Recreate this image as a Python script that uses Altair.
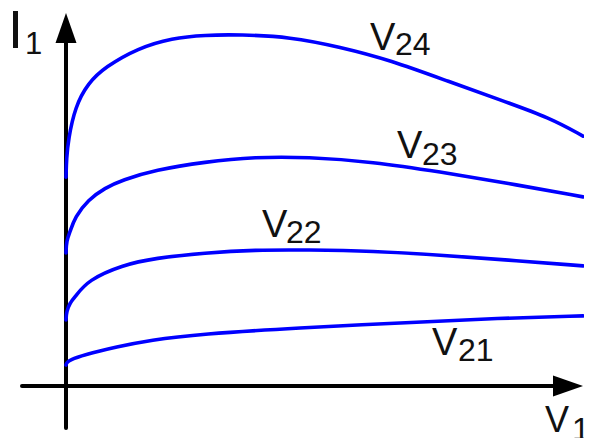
import altair as alt
import pandas as pd

# ---- curve data (V1 in 0..10, I1 in 0..10 arbitrary units) ----
v24_x = [0.0, 0.01, 0.044, 0.174, 0.426, 0.754, 1.393, 2.05, 2.689, 3.366, 4.333, 5.30, 6.267, 7.427, 8.395, 9.362, 10.0]
v24_y = [5.60, 6.10, 6.60, 7.48, 8.12, 8.55, 9.06, 9.33, 9.41, 9.42, 9.36, 9.09, 8.74, 8.15, 7.67, 7.19, 6.70]

v23_x = [0.0, 0.01, 0.077, 0.174, 0.426, 0.754, 1.083, 1.721, 2.689, 3.656, 4.662, 5.938, 7.234, 8.530, 10.0]
v23_y = [3.57, 3.90, 4.13, 4.53, 4.99, 5.31, 5.52, 5.79, 6.01, 6.14, 6.14, 6.01, 5.74, 5.44, 5.07]

v22_x = [0.0, 0.01, 0.077, 0.174, 0.426, 1.083, 1.721, 2.689, 3.656, 4.662, 5.938, 7.234, 8.530, 10.0]
v22_y = [1.77, 2.00, 2.23, 2.39, 2.84, 3.24, 3.43, 3.57, 3.65, 3.65, 3.62, 3.51, 3.38, 3.22]

v21_x = [0.0, 0.01, 0.077, 0.329, 0.987, 1.625, 2.592, 4.526, 6.460, 8.395, 10.0]
v21_y = [0.56, 0.62, 0.70, 0.83, 1.05, 1.23, 1.39, 1.56, 1.69, 1.82, 1.88]

# ---- labels ----
label_text = ["V", "24", "V", "23", "V", "22", "V", "21", "V", "1", "I", "1"]
label_x = [5.880, 6.364, 6.402, 6.886, 3.791, 4.255, 7.079, 7.582, 9.265, 9.787, -1.122, -0.793]
label_y = [9.008, 8.874, 6.113, 5.925, 3.995, 3.834, 0.831, 0.670, -1.233, -1.448, 9.062, 8.901]
label_size = [38, 32, 38, 32, 38, 32, 38, 32, 36, 32, 54, 31]

# ---- axes ----
axis_x = [0.0, -0.851]
axis_x2 = [0.0, 9.71]
axis_y = [-1.126, 0.0]
axis_y2 = [9.6, 0.0]

XDOM = [-1.1219, 10.019]
YDOM = [-1.180, 10.134]

curves = []
for name, xs_, ys_ in [("V24", v24_x, v24_y), ("V23", v23_x, v23_y),
                       ("V22", v22_x, v22_y), ("V21", v21_x, v21_y)]:
    for i, (a, b) in enumerate(zip(xs_, ys_)):
        curves.append({"curve": name, "x": a, "y": b, "o": i})
curves = pd.DataFrame(curves)

labels = pd.DataFrame({"t": label_text, "x": label_x, "y": label_y, "fs": label_size})
axes = pd.DataFrame({"x": axis_x, "x2": axis_x2, "y": axis_y, "y2": axis_y2})
arrow_up = pd.DataFrame({"x": [0.0], "y": [9.598]})
arrow_right = pd.DataFrame({"x": [9.71], "y": [0.0]})

xs = alt.Scale(domain=XDOM, nice=False, zero=False)
ys = alt.Scale(domain=YDOM, nice=False, zero=False)

rules = alt.Chart(axes).mark_rule(color="black", strokeWidth=4, strokeCap="round").encode(
    x=alt.X("x:Q", scale=xs, axis=None),
    x2="x2:Q",
    y=alt.Y("y:Q", scale=ys, axis=None),
    y2="y2:Q",
)

up = alt.Chart(arrow_up).mark_point(
    shape="M0,-1L0.7,1L-0.7,1Z", filled=True, color="black", size=900, opacity=1
).encode(x=alt.X("x:Q", scale=xs, axis=None), y=alt.Y("y:Q", scale=ys, axis=None))

right = alt.Chart(arrow_right).mark_point(
    shape="M1,0L-1,-0.7L-1,0.7Z", filled=True, color="black", size=900, opacity=1
).encode(x=alt.X("x:Q", scale=xs, axis=None), y=alt.Y("y:Q", scale=ys, axis=None))

lines = alt.Chart(curves).mark_line(
    color="#0000ff", strokeWidth=3.6, interpolate="basis", strokeCap="round"
).encode(
    x=alt.X("x:Q", scale=xs, axis=None),
    y=alt.Y("y:Q", scale=ys, axis=None),
    detail="curve:N",
    order="o:Q",
)

text = alt.Chart(labels).mark_text(
    align="left", baseline="alphabetic", font="Liberation Sans", color="#111111"
).encode(
    x=alt.X("x:Q", scale=xs, axis=None),
    y=alt.Y("y:Q", scale=ys, axis=None),
    text="t:N",
    size=alt.Size("fs:Q", scale=None, legend=None),
)

chart = alt.layer(rules, lines, up, right, text).properties(
    width=576, height=422,
    padding={"left": 0, "top": 0, "right": 0, "bottom": 12},
    autosize=alt.AutoSizeParams(type="none"),
    background="white",
).configure_view(stroke=None)

chart.save("out.html", embed_options={"renderer": "svg", "actions": False})
